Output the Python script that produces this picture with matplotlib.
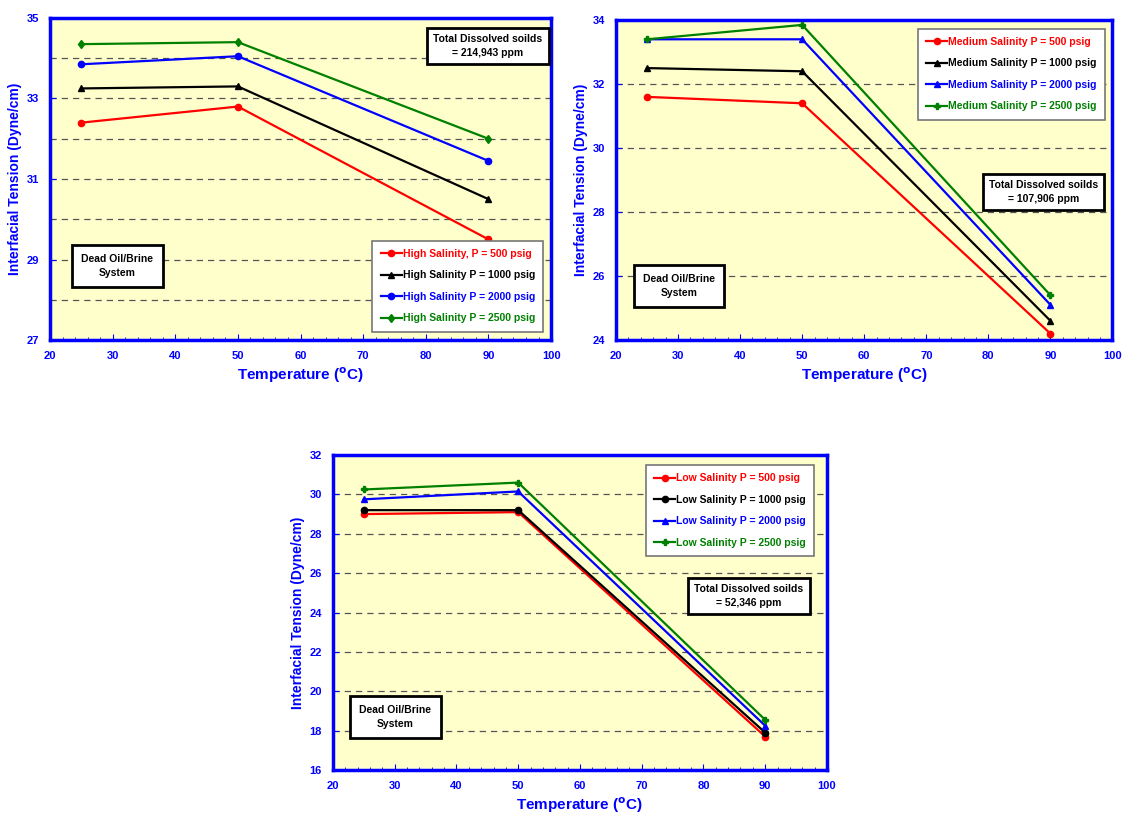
import matplotlib
matplotlib.use("Agg")
import matplotlib.pyplot as plt
from matplotlib.ticker import MultipleLocator

plt.rcParams['font.family'] = ['Liberation Sans', 'DejaVu Sans']
plt.rcParams['font.weight'] = 'bold'

temps = [25, 50, 90]
pressures = [500, 1000, 2000, 2500]
colors = ['#ff0000', '#000000', '#0000ff', '#008000']

high_ift = [[32.4, 32.8, 29.5],
            [33.25, 33.3, 30.5],
            [33.85, 34.05, 31.45],
            [34.35, 34.4, 32.0]]
high_labels = ['High Salinity, P = 500 psig', 'High Salinity P = 1000 psig',
               'High Salinity P = 2000 psig', 'High Salinity P = 2500 psig']
high_markers = ['o', '^', 'o', 'd']
high_yticks = [27, 29, 31, 33, 35]

med_ift = [[31.6, 31.4, 24.2],
           [32.5, 32.4, 24.6],
           [33.4, 33.4, 25.1],
           [33.4, 33.85, 25.4]]
med_labels = ['Medium Salinity P = 500 psig', 'Medium Salinity P = 1000 psig',
              'Medium Salinity P = 2000 psig', 'Medium Salinity P = 2500 psig']
med_markers = ['o', '^', '^', 'P']
med_yticks = [24, 26, 28, 30, 32, 34]

low_ift = [[29.0, 29.1, 17.7],
           [29.2, 29.2, 17.9],
           [29.75, 30.15, 18.25],
           [30.25, 30.6, 18.55]]
low_labels = ['Low Salinity P = 500 psig', 'Low Salinity P = 1000 psig',
              'Low Salinity P = 2000 psig', 'Low Salinity P = 2500 psig']
low_markers = ['o', 'o', '^', 'P']
low_yticks = [16, 18, 20, 22, 24, 26, 28, 30, 32]

xticks = [20, 30, 40, 50, 60, 70, 80, 90, 100]

tds_texts = ['Total Dissolved soilds\n= 214,943 ppm',
             'Total Dissolved soilds\n= 107,906 ppm',
             'Total Dissolved soilds\n= 52,346 ppm']

fig = plt.figure(figsize=(11.26, 8.14), dpi=100)
fig.patch.set_facecolor('white')

panels = [
    dict(rect=[0.0444, 0.5823, 0.445, 0.3956], data=high_ift, labels=high_labels,
         markers=high_markers, ylim=(27, 35), yticks=high_yticks, grid=1,
         tds=tds_texts[0], tds_pos=(0.874, 0.913), dead_pos=(0.134, 0.23),
         leg=dict(loc='lower right', bbox_to_anchor=(0.995, 0.01))),
    dict(rect=[0.547, 0.5823, 0.441, 0.393], data=med_ift, labels=med_labels,
         markers=med_markers, ylim=(24, 34), yticks=med_yticks, grid=2,
         tds=tds_texts[1], tds_pos=(0.861, 0.4625), dead_pos=(0.127, 0.169),
         leg=dict(loc='upper right', bbox_to_anchor=(0.995, 0.99))),
    dict(rect=[0.2957, 0.054, 0.4387, 0.387], data=low_ift, labels=low_labels,
         markers=low_markers, ylim=(16, 32), yticks=low_yticks, grid=2,
         tds=tds_texts[2], tds_pos=(0.842, 0.552), dead_pos=(0.126, 0.168),
         leg=dict(loc='upper right', bbox_to_anchor=(0.985, 0.985))),
]

for p in panels:
    ax = fig.add_axes(p['rect'])
    ax.set_facecolor('#ffffcc')
    for s in ax.spines.values():
        s.set_color('#0000ff')
        s.set_linewidth(2.5)
    y0, y1 = p['ylim']
    g = y0 + p['grid']
    while g < y1 - 1e-9:
        ax.axhline(g, color='#555555', lw=0.9, ls=(0, (5, 4)), zorder=1)
        g += p['grid']
    for vals, lab, col, mk in zip(p['data'], p['labels'], colors, p['markers']):
        ax.plot(temps, vals, color=col, lw=1.6, marker=mk, ms=4.5,
                mec=col, mfc=col, label=lab, zorder=3)
    ax.set_xlim(20, 100)
    ax.set_ylim(y0, y1)
    ax.set_xticks(xticks)
    ax.xaxis.set_minor_locator(MultipleLocator(2))
    ax.set_yticks(p['yticks'])
    ax.tick_params(axis='both', which='both', direction='in', colors='#0000ff',
                   labelsize=8, pad=8)
    ax.tick_params(which='major', length=4)
    ax.tick_params(which='minor', length=2)
    for t in ax.get_xticklabels() + ax.get_yticklabels():
        t.set_fontweight('bold')
        t.set_color('#0000ff')
    ax.set_xlabel('Temperature ($\\mathbf{^{o}}$C)', color='#0000ff',
                  fontsize=11, fontweight='bold', labelpad=3)
    ax.set_ylabel('Interfacial Tension (Dyne/cm)', color='#0000ff',
                  fontsize=10, fontweight='bold', labelpad=3)
    leg = ax.legend(prop={'size': 7.5, 'weight': 'bold'}, frameon=True,
                    fancybox=False, edgecolor='#777777', facecolor='white',
                    framealpha=1, handlelength=2.0, handletextpad=0.1,
                    labelspacing=1.1, borderpad=0.8, **p['leg'])
    leg.get_frame().set_linewidth(1.2)
    for txt, col in zip(leg.get_texts(), colors):
        txt.set_color(col)
    ax.text(p['tds_pos'][0], p['tds_pos'][1], p['tds'], transform=ax.transAxes,
            ha='center', va='center', fontsize=7.5, fontweight='bold',
            linespacing=1.5, zorder=5,
            bbox=dict(boxstyle='square,pad=0.6', fc='white', ec='black', lw=2))
    ax.text(p['dead_pos'][0], p['dead_pos'][1], 'Dead Oil/Brine\nSystem',
            transform=ax.transAxes, ha='center', va='center', fontsize=7.5,
            fontweight='bold', linespacing=1.5, zorder=5,
            bbox=dict(boxstyle='square,pad=0.9', fc='white', ec='black', lw=2))

fig.savefig('out.png', dpi=100)
